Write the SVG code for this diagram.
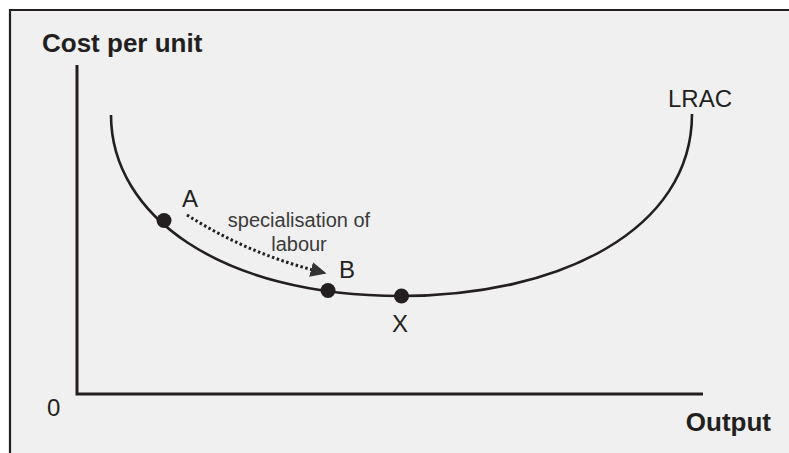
<svg xmlns="http://www.w3.org/2000/svg" width="789" height="453" viewBox="0 0 789 453">
<defs>
<style>
.lbl{font-family:"Liberation Sans",Arial,sans-serif;fill:#231f20}
.ax{font-weight:bold;font-size:26px}
.pt{font-size:24px}
.note{font-size:20px;fill:#3a3a3a}
.line{fill:none;stroke:#231f20}
.dot{fill:#231f20}
</style>
<marker id="arr" markerUnits="userSpaceOnUse" markerWidth="18" markerHeight="16" refX="2" refY="7.5" orient="auto" viewBox="0 0 18 15">
<path d="M0,0 L16,7.5 L0,15 Z" fill="#333"/>
</marker>
</defs>
<rect x="0" y="0" width="789" height="453" fill="#ffffff"/>
<rect x="10" y="10" width="779" height="443" fill="#f0f0f0"/>
<path d="M10,453 L10,10 L789,10" class="line" stroke-width="2.2"/>
<g id="axes">
<path d="M77,65 L77,394 L703,394" class="line" stroke-width="3"/>
<text class="lbl ax" x="42" y="52">Cost per unit</text>
<text class="lbl ax" x="771" y="431" text-anchor="end">Output</text>
<text class="lbl pt" x="47" y="416" font-size="25">0</text>
</g>
<g id="lrac">
<path d="M111,115 C111,215 220,296 401,296 C560,296 692,230 692,114" class="line" stroke-width="2.6"/>
<text class="lbl pt" x="668" y="107" font-size="25">LRAC</text>
</g>
<g id="point-a">
<circle cx="164" cy="220.5" r="7.5" class="dot"/>
<text class="lbl pt" x="182" y="207">A</text>
</g>
<g id="point-b">
<circle cx="328" cy="290.5" r="7.5" class="dot"/>
<text class="lbl pt" x="339" y="278">B</text>
</g>
<g id="point-x">
<circle cx="401.5" cy="296" r="7.5" class="dot"/>
<text class="lbl pt" x="392" y="332" font-size="25">X</text>
</g>
<g id="connectors">
<path d="M187,215 Q245,252 313,270" class="line" stroke="#231f20" stroke-width="3" stroke-dasharray="2.5,2.5" marker-end="url(#arr)"/>
<text class="lbl note" x="299" y="227" text-anchor="middle">specialisation of</text>
<text class="lbl note" x="299" y="250.5" text-anchor="middle">labour</text>
</g>
</svg>
